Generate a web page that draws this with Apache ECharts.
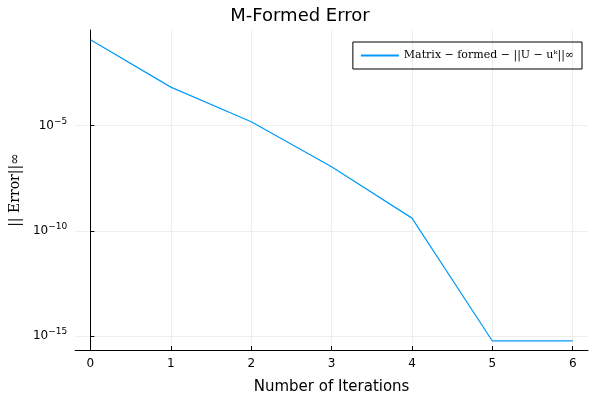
<!DOCTYPE html><html><head><meta charset="utf-8">
<script src="https://cdn.jsdelivr.net/npm/echarts@6/dist/echarts.min.js"></script>
<style>html,body{margin:0;background:#fff}#c{width:600px;height:400px}</style></head><body><div id="c"></div>
<script>
const iterations=[0,1,2,3,4,5,6];
const errors=[0.118,6.6e-4,1.5e-5,1.1e-7,4e-10,5.9e-16,5.9e-16];
const xTicks=[0,1,2,3,4,5,6];
const yTicks=[1e-15,1e-10,1e-5];
const ch=echarts.init(document.getElementById('c'));
ch.setOption({
 animation:false,
 title:{text:'M-Formed Error',left:'center',top:2,textStyle:{fontFamily:'DejaVu Sans',fontWeight:'normal',fontSize:18,color:'#000'}},
 grid:{left:70,right:12,top:30,bottom:45},
 legend:{right:18,top:42,itemWidth:38,itemHeight:2,icon:'rect',borderColor:'#000',borderWidth:1,padding:[8,8],
  textStyle:{fontFamily:'DejaVu Serif',fontSize:11,color:'#000'},
  data:['Matrix − formed − ||U − uᵏ||∞']},
 xAxis:{type:'value',min:-0.19,max:6.19,name:'Number of Iterations',nameLocation:'middle',nameGap:30,
  nameTextStyle:{fontFamily:'DejaVu Sans',fontSize:15,color:'#000'},
  axisLine:{onZero:false,lineStyle:{color:'#000'}},
  axisTick:{customValues:xTicks,length:-4,lineStyle:{color:'#000'}},
  axisLabel:{customValues:xTicks,color:'#000',fontSize:12,fontFamily:'DejaVu Sans'},
  splitLine:{show:true,lineStyle:{color:'#eee'}}},
 yAxis:{type:'log',logBase:10,min:2.2e-16,max:0.34,name:'|| Error||∞',nameLocation:'middle',nameGap:46,
  nameTextStyle:{fontFamily:'DejaVu Serif',fontSize:14,color:'#000'},
  axisLine:{show:true,lineStyle:{color:'#000'}},
  axisTick:{customValues:yTicks,length:-4,lineStyle:{color:'#000'}},
  axisLabel:{customValues:yTicks,color:'#000',fontFamily:'DejaVu Sans',
   formatter:v=>'{b|10}{s|'+String(Math.round(Math.log10(v))).replace('-','−')+'}',
   rich:{b:{fontSize:12,color:'#000',fontFamily:'DejaVu Sans'},s:{fontSize:9,color:'#000',verticalAlign:'bottom',padding:[0,0,8,0],fontFamily:'DejaVu Sans'}}},
  splitLine:{show:true,lineStyle:{color:'#eee'}}},
 series:[{name:'Matrix − formed − ||U − uᵏ||∞',type:'line',data:iterations.map((x,i)=>[x,errors[i]]),
  showSymbol:false,lineStyle:{color:'#009af9',width:1.2},itemStyle:{color:'#009af9'}}]
});
</script></body></html>
